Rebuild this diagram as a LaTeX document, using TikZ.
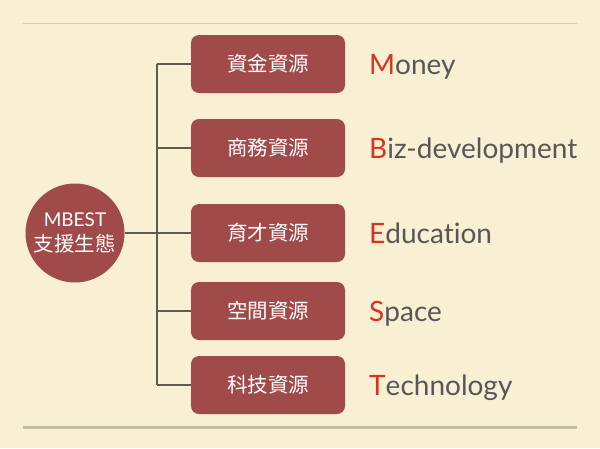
\documentclass[tikz,border=0pt]{standalone}
\usepackage{fontspec}
\setmainfont[Ligatures={NoCommon}]{Lato}
\newfontfamily\cjk{Noto Sans CJK TC}
\usepackage{tikz}

\definecolor{paper}{HTML}{F9EFD3}
\definecolor{boxred}{HTML}{A04A49}
\definecolor{wire}{HTML}{5E5C4C}
\definecolor{letter}{HTML}{D93320}
\definecolor{word}{HTML}{57575A}
\definecolor{rule}{HTML}{C4BFA2}

\begin{document}
\begin{tikzpicture}
        [x=1pt,y=-1pt,
         res/.style={draw=none,fill=boxred,rounded corners=8pt,minimum width=154pt,minimum height=58pt,
           text=white,font=\cjk\fontsize{20.5}{24}\selectfont},
         initial/.style={anchor=base west,text=word,font=\fontsize{28}{32}\selectfont,inner sep=0}]

        \useasboundingbox[fill=paper] (0, 0) rectangle (600, 448);
        \draw[rule!80, line width=1pt] (23, 23) -- (577, 23);
        \draw[rule, line width=3pt] (23, 427) -- (577, 427);

        \node[circle,fill=boxred,minimum size=99pt,inner sep=0,text=white,align=center,
          font=\fontsize{19}{25}\selectfont] (root) at (75, 233) {MBEST\\{\cjk\fontsize{20.5}{25}\selectfont 支援生態}};

        \node[res] (r1) at (268, 64) {資金資源};
        \node[res] (r2) at (268, 148) {商務資源};
        \node[res] (r3) at (268, 233) {育才資源};
        \node[res] (r4) at (268, 311) {空間資源};
        \node[res] (r5) at (268, 385) {科技資源};

        \node[initial] (l1) at (369, 74) {\textcolor{letter}{M}oney};
        \node[initial] (l2) at (369, 158) {\textcolor{letter}{B}iz-development};
        \node[initial] (l3) at (369, 243) {\textcolor{letter}{E}ducation};
        \node[initial] (l4) at (369, 321) {\textcolor{letter}{S}pace};
        \node[initial] (l5) at (369, 395) {\textcolor{letter}{T}echnology};

        \coordinate (s1) at (157, 64);
        \coordinate (s2) at (157, 148);
        \coordinate (s3) at (157, 233);
        \coordinate (s4) at (157, 311);
        \coordinate (s5) at (157, 385);

        \draw[wire, line width=2pt] (s1) -- (s5);
        \draw[wire, line width=2pt] (root) -- (s3);
        \draw[wire, line width=2pt] (s1) -- (r1);
        \draw[wire, line width=2pt] (s2) -- (r2);
        \draw[wire, line width=2pt] (s3) -- (r3);
        \draw[wire, line width=2pt] (s4) -- (r4);
        \draw[wire, line width=2pt] (s5) -- (r5);
      \end{tikzpicture}
\end{document}
